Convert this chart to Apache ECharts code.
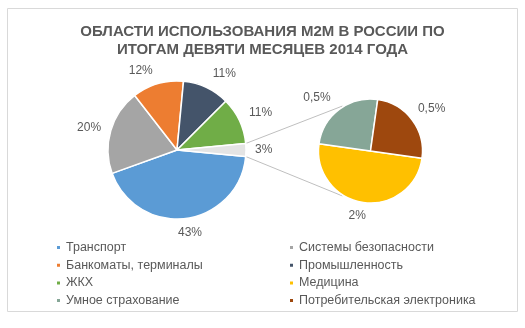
<!DOCTYPE html>
<html><head><meta charset="utf-8">
<script src="https://cdn.jsdelivr.net/npm/echarts@6/dist/echarts.min.js"></script>
<style>html,body{margin:0;padding:0;background:#fff}#c{width:525px;height:328px}</style>
</head><body><div id="c"></div>
<script>
// Data
const mainCategories = ['Транспорт', 'Системы безопасности', 'Банкоматы, терминалы', 'Промышленность', 'ЖКХ'];
const mainValues = [43, 20, 12, 11, 11];
const otherLabel = 'Прочее';
const otherValue = 3;
const subCategories = ['Медицина', 'Умное страхование', 'Потребительская электроника'];
// slice sizes as drawn in the secondary pie (half / quarter / quarter of the 3% "other")
const subValues = [1.5, 0.75, 0.75];
// data labels as printed on the reference
const subLabels = ['2%', '0,5%', '0,5%'];
const titleLines = ['ОБЛАСТИ ИСПОЛЬЗОВАНИЯ M2M В РОССИИ ПО', 'ИТОГАМ ДЕВЯТИ МЕСЯЦЕВ 2014 ГОДА'];

// Styles / layout
const mainColors = ['#5B9BD5', '#A5A5A5', '#ED7D31', '#44546A', '#70AD47'];
const otherColor = '#E4E4E4';
const subColors = ['#FFC000', '#86A697', '#9E480E'];
const mainLabelLen = [14.7, 10, 13.3, 15, 17.9, 6];
const mainLabelDist = [-9.5, 0, 1.3, 0, -6.6, 3];
const subLabelLen = [13.7, 14.3, 17.8];
const subLabelDist = [-4.6, 0, -8.3];
const C1 = [177, 150], R1 = 69;
const C2 = [370.5, 151], R2 = 52;
const txt = '#595959';
const font = 'Liberation Sans, Arial, sans-serif';

const mainAll = mainValues.concat([otherValue]);
const total = mainAll.reduce((a, b) => a + b, 0);
const otherHalfDeg = otherValue / total * 360 / 2;

const fmtMain = p => String(p.value).replace('.', ',') + '%';
const fmtSub = p => subLabels[p.dataIndex];

const mainData = mainAll.map((v, i) => ({
  name: i < mainCategories.length ? mainCategories[i] : otherLabel,
  value: v,
  itemStyle: { color: i < mainColors.length ? mainColors[i] : otherColor },
  label: { distanceToLabelLine: mainLabelDist[i] },
  labelLine: { show: false, length: mainLabelLen[i], length2: 0 }
}));
const subData = subValues.map((v, i) => ({
  name: subCategories[i],
  value: v,
  itemStyle: { color: subColors[i] },
  label: { distanceToLabelLine: subLabelDist[i] },
  labelLine: { show: false, length: subLabelLen[i], length2: 0 }
}));

// connector lines computed from pie geometry
function pt(c, r, degCw) { const a = degCw * Math.PI / 180; return [c[0] + r * Math.sin(a), c[1] - r * Math.cos(a)]; }
const subHalf = 32;
const p1a = pt(C1, R1, 90 - otherHalfDeg), p1b = pt(C2, R2 + 1, 360 - subHalf);
const p2a = pt(C1, R1, 90 + otherHalfDeg), p2b = pt(C2, R2 + 1, 180 + subHalf);

const chart = echarts.init(document.getElementById('c'), null, { renderer: 'canvas' });
const baseLabel = { show: true, position: 'outside', color: txt, fontSize: 12, fontFamily: font };
const legendText = { color: txt, fontSize: 12.5, fontFamily: font, lineHeight: 12 };
chart.setOption({
  animation: false,
  title: {
    text: titleLines.join('\n'), left: 'center', top: 18,
    textStyle: { fontSize: 15, fontWeight: 'bold', color: txt, fontFamily: font, lineHeight: 18 }
  },
  legend: [
    { orient: 'vertical', left: 50, top: 236, itemWidth: 5, itemHeight: 5, itemGap: 4.7, icon: 'rect',
      data: [mainCategories[0], mainCategories[2], mainCategories[4], subCategories[1]], textStyle: legendText },
    { orient: 'vertical', left: 283, top: 236, itemWidth: 5, itemHeight: 5, itemGap: 4.7, icon: 'rect',
      data: [mainCategories[1], mainCategories[3], subCategories[0], subCategories[2]], textStyle: legendText }
  ],
  graphic: [
    { type: 'rect', z: -10, shape: { x: 7.5, y: 8.5, width: 510, height: 303 }, style: { fill: 'none', stroke: '#D9D9D9', lineWidth: 1 } },
    { type: 'line', shape: { x1: p1a[0], y1: p1a[1], x2: p1b[0], y2: p1b[1] }, style: { stroke: '#BFBFBF', lineWidth: 1 } },
    { type: 'line', shape: { x1: p2a[0], y1: p2a[1], x2: p2b[0], y2: p2b[1] }, style: { stroke: '#BFBFBF', lineWidth: 1 } }
  ],
  series: [
    { type: 'pie', center: C1, radius: R1, startAngle: -otherHalfDeg, clockwise: true,
      avoidLabelOverlap: false, silent: true,
      itemStyle: { borderColor: '#fff', borderWidth: 1.5 },
      label: Object.assign({ formatter: fmtMain }, baseLabel), data: mainData },
    { type: 'pie', center: C2, radius: R2, startAngle: -8, clockwise: true,
      avoidLabelOverlap: false, silent: true,
      itemStyle: { borderColor: '#fff', borderWidth: 1.5 },
      label: Object.assign({ formatter: fmtSub }, baseLabel), data: subData }
  ]
});
</script></body></html>
